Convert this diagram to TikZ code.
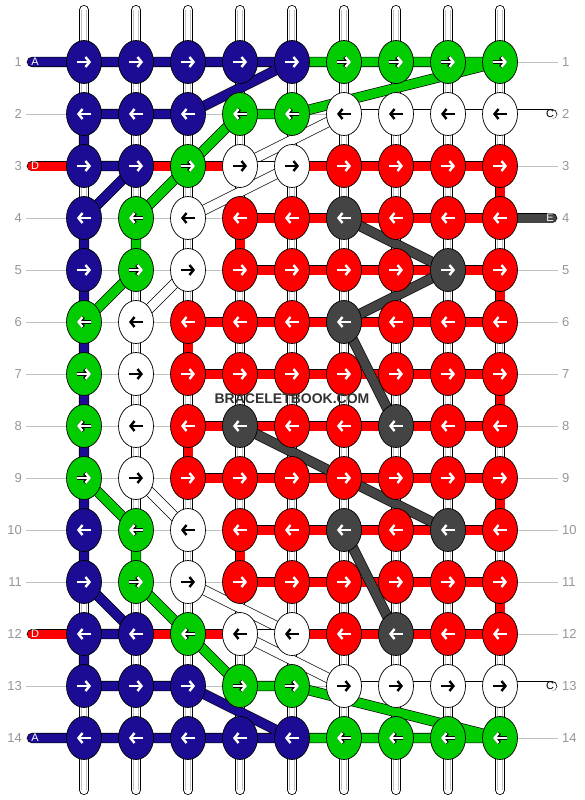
\documentclass[tikz,border=0pt]{standalone}
\usepackage{fontspec}
\setmainfont{Liberation Sans}
\usetikzlibrary{shapes.geometric,arrows.meta}

\definecolor{bbblue}{RGB}{28,12,148}
\definecolor{bbgreen}{RGB}{0,204,0}
\definecolor{bbred}{RGB}{255,0,0}
\definecolor{bbdark}{RGB}{68,68,68}
\definecolor{bbguide}{RGB}{192,192,192}
\definecolor{bblabel}{RGB}{150,150,150}
\definecolor{bbmark}{RGB}{50,50,50}

\tikzset{
  knot/.style={ellipse,draw=black,line width=0.7pt,minimum width=35pt,minimum height=43pt,inner sep=0pt},
  kB/.style={knot,fill=bbblue},
  kG/.style={knot,fill=bbgreen},
  kR/.style={knot,fill=bbred},
  kW/.style={knot,fill=white},
  kK/.style={knot,fill=bbdark},
  arw/.style={line width=2.4pt,-{Straight Barb[length=4pt,width=10pt]}},
  aB/.style={arw,draw=white},
  aR/.style={arw,draw=white},
  aK/.style={arw,draw=white},
  aW/.style={arw,draw=black},
  aG/.style={arw,draw=white,preaction={draw=black,line width=3.8pt}},
  thr/.style={line width=0.7pt,double=#1,double distance=9pt,line cap=round,line join=round},
  bar/.style={line width=0.8pt,double=white,double distance=8.4pt,line cap=round},
  barin/.style={draw=bbguide,line width=0.6pt,double=white,double distance=4.4pt},
  guide/.style={draw=bbguide,line width=0.8pt},
  lbl/.style={text=bblabel,font=\fontsize{13}{13}\selectfont,inner sep=0pt},
  stubtxt/.style={font=\fontsize{11}{11}\selectfont,inner sep=0pt}
}

\begin{document}
\begin{tikzpicture}[x=1pt,y=-1pt]
\useasboundingbox (0,0) rectangle (584,800);

% grid of knot places
\foreach \r in {1,...,14}{
  \foreach \c in {1,...,9}{
    \coordinate (p-\r-\c) at ({84+52*(\c-1)},{62+52*(\r-1)});
  }
  \coordinate (gl-\r) at (26,{62+52*(\r-1)});
  \coordinate (gr-\r) at (558,{62+52*(\r-1)});
  \draw[guide] (gl-\r) -- (gr-\r);
  \node[lbl,anchor=east] (ll-\r) at (22,{62+52*(\r-1)}) {\r};
  \node[lbl,anchor=west] (lr-\r) at (562,{62+52*(\r-1)}) {\r};
}

% base strings
\foreach \c in {1,...,9}{
  \coordinate (t-\c) at ({84+52*(\c-1)},10);
  \coordinate (b-\c) at ({84+52*(\c-1)},790);
  \draw[bar] (t-\c) -- (b-\c);
  \draw[barin] (t-\c) -- (b-\c);
}

% thread ends
\coordinate (sA1) at (32,62);
\coordinate (sD1) at (32,166);
\coordinate (sD2) at (32,634);
\coordinate (sA2) at (32,738);
\coordinate (sC1) at (552,114);
\coordinate (sE) at (552,218);
\coordinate (sC2) at (552,686);

% red
\draw[thr=bbred] (sD1) -- (p-3-4) (p-3-5) -- (p-3-9) -- (p-4-9) -- (p-4-4) -- (p-5-4)
  -- (p-5-9) -- (p-6-9) -- (p-6-3) -- (p-7-3) -- (p-7-9) -- (p-8-9) -- (p-8-3)
  -- (p-9-3) -- (p-9-9) -- (p-10-9) -- (p-10-4) -- (p-11-4) -- (p-11-9)
  -- (p-12-9) -- (p-12-5);
\draw[thr=bbred] (sD2) -- (p-12-4);

% white
\draw[thr=white] (sC1) -- (p-2-6);
\draw[thr=white] (p-2-6) -- (p-3-4);
\draw[thr=white] (p-3-4) -- (p-3-5);
\draw[thr=white] (p-3-5) -- (p-4-3);
\draw[thr=white] (p-5-3) -- (p-6-2);
\draw[thr=white] (p-9-2) -- (p-10-3);
\draw[thr=white] (p-11-3) -- (p-12-5);
\draw[thr=white] (p-12-5) -- (p-12-4);
\draw[thr=white] (p-12-4) -- (p-13-6);
\draw[thr=white] (p-13-6) -- (sC2);

% green
\draw[thr=bbgreen] (p-1-5) -- (p-1-9) -- (p-2-5) -- (p-2-4) -- (p-4-2) -- (p-5-2) -- (p-6-1);
\draw[thr=bbgreen] (p-9-1) -- (p-10-2) -- (p-11-2) -- (p-13-4) -- (p-13-5) -- (p-14-9) -- (p-14-5);

% blue
\draw[thr=bbblue] (sA1) -- (p-1-5) -- (p-2-3) -- (p-2-1) -- (p-3-1) -- (p-3-2) -- (p-4-1)
  -- (p-11-1) -- (p-12-2) -- (p-12-1) -- (p-13-1) -- (p-13-3) -- (p-14-5) -- (sA2);

% dark
\draw[thr=bbdark] (sE) -- (p-4-9);
\draw[thr=bbdark] (p-4-6) -- (p-5-8) -- (p-6-6) -- (p-8-7);
\draw[thr=bbdark] (p-8-4) -- (p-10-8);
\draw[thr=bbdark] (p-10-6) -- (p-12-7);

% knots
\foreach \r/\row in {
  1/{B,B,B,B,B,G,G,G,G}, 2/{B,B,B,G,G,W,W,W,W}, 3/{B,B,G,W,W,R,R,R,R},
  4/{B,G,W,R,R,K,R,R,R}, 5/{B,G,W,R,R,R,R,K,R}, 6/{G,W,R,R,R,K,R,R,R},
  7/{G,W,R,R,R,R,R,R,R}, 8/{G,W,R,K,R,R,K,R,R}, 9/{G,W,R,R,R,R,R,R,R},
  10/{B,G,W,R,R,K,R,K,R}, 11/{B,G,W,R,R,R,R,R,R}, 12/{B,B,G,W,W,R,K,R,R},
  13/{B,B,B,G,G,W,W,W,W}, 14/{B,B,B,B,B,G,G,G,G}}{
  \pgfmathsetmacro\xa{ifthenelse(mod(\r,2)==1,-7,7)}
  \pgfmathsetmacro\xb{-1*(\xa)}
  \foreach \k [count=\c] in \row {
    \node[k\k] (k-\r-\c) at (p-\r-\c) {};
    \draw[a\k] ([xshift=\xa pt]k-\r-\c.center) -- ([xshift=\xb pt]k-\r-\c.center);
  }
}

% letters on thread ends
\node[stubtxt,text=white] (tA1) at (35,62) {A};
\node[stubtxt,text=white] (tD1) at (35,166) {D};
\node[stubtxt,text=white] (tD2) at (35,634) {D};
\node[stubtxt,text=white] (tA2) at (35,738) {A};
\node[stubtxt,text=black] (tC1) at (550,114) {C};
\node[stubtxt,text=white] (tE) at (550,218) {E};
\node[stubtxt,text=black] (tC2) at (550,686) {C};

\node[text=bbmark,font=\bfseries\fontsize{14}{14}\selectfont,inner sep=0pt] (mark) at (292,399) {BRACELETBOOK.COM};
\end{tikzpicture}
\end{document}
